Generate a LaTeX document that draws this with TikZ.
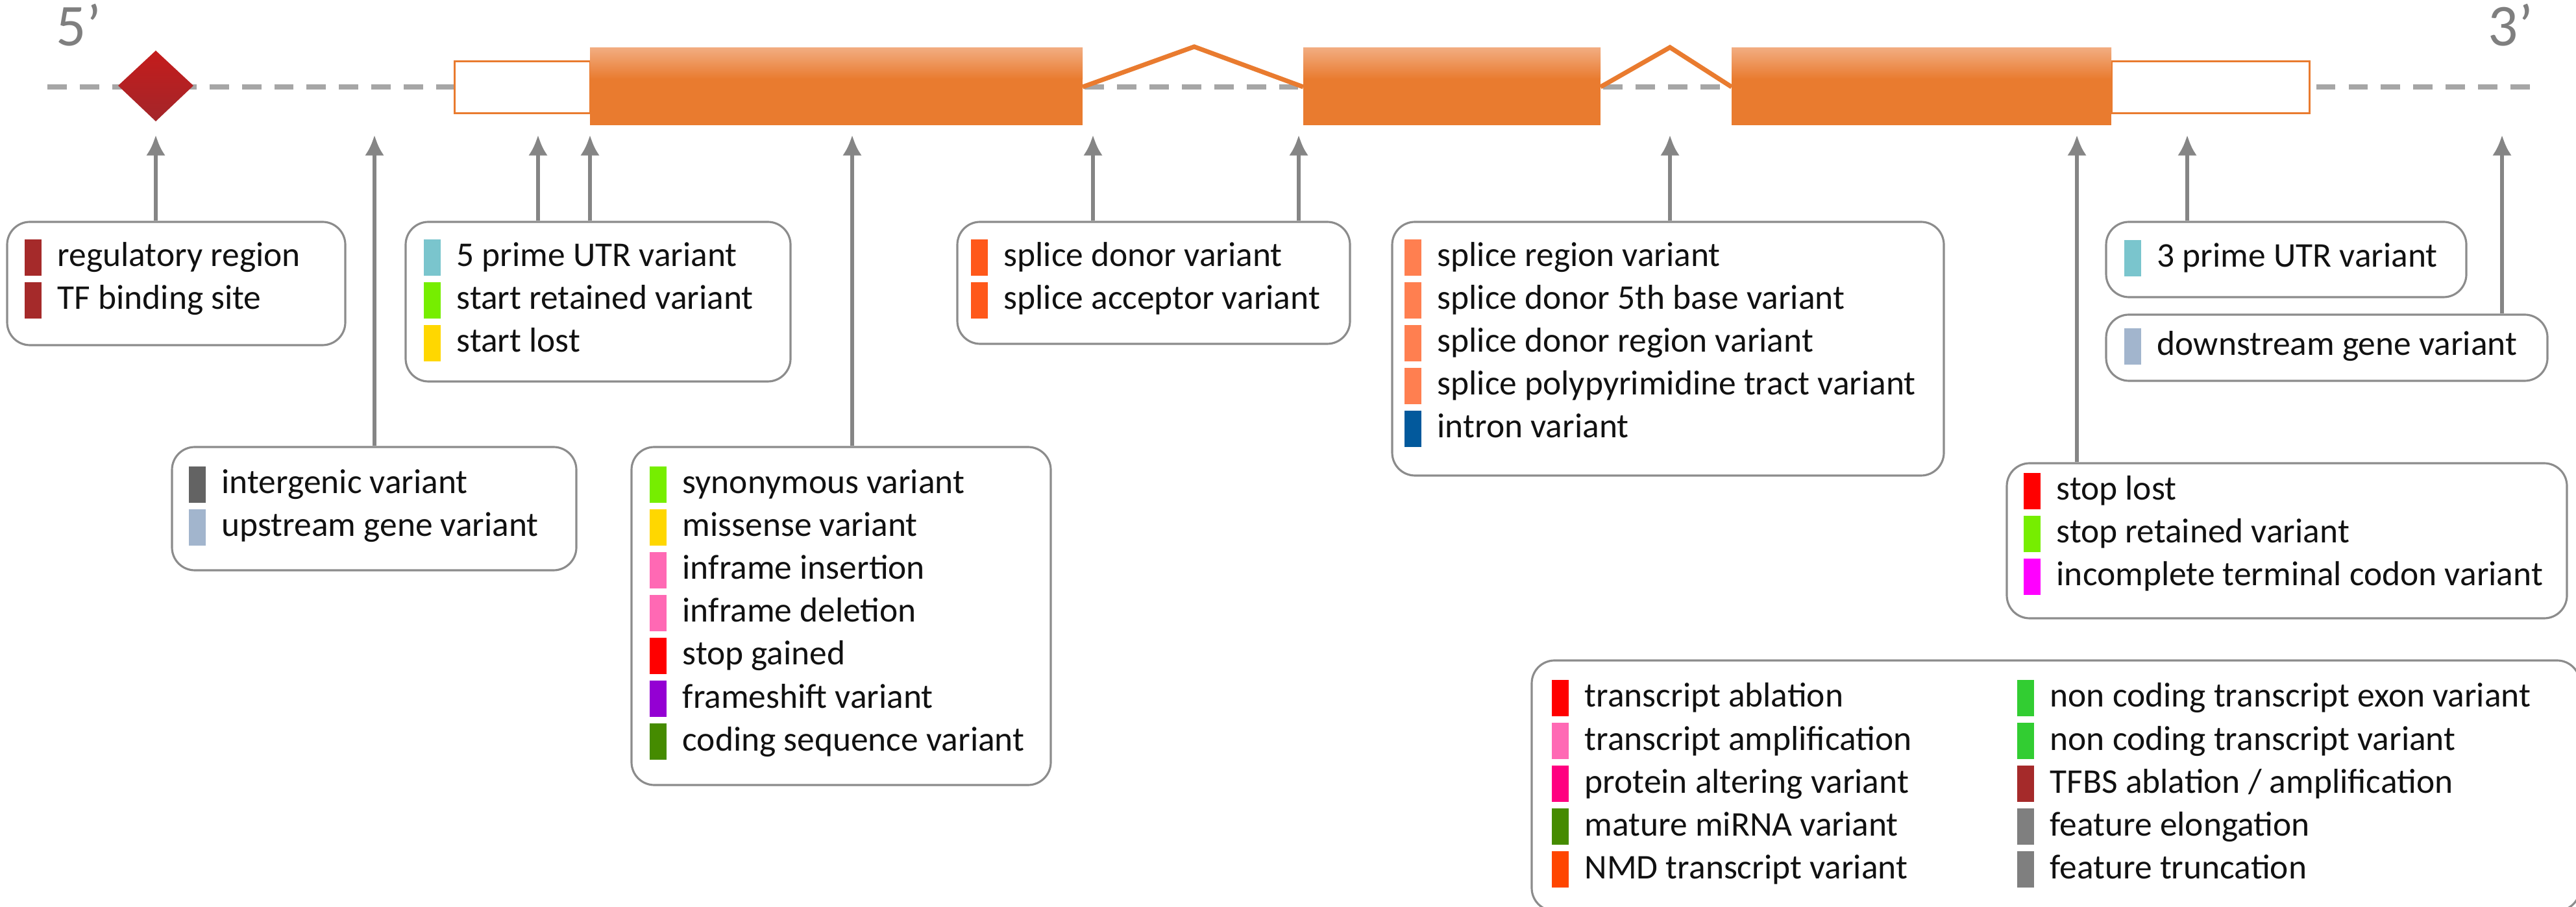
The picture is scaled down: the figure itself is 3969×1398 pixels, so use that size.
\documentclass[tikz,border=0pt]{standalone}
\usepackage{fontspec}
\setmainfont{Carlito}
\usetikzlibrary{arrows.meta,fit}
\definecolor{gline}{HTML}{A6A6A6}
\definecolor{exonor}{HTML}{E97B2F}
\definecolor{exonlt}{HTML}{F2AC80}
\definecolor{diamA}{HTML}{C41C1C}
\definecolor{diamB}{HTML}{A3262A}
\definecolor{arrg}{HTML}{858585}
\definecolor{boxg}{HTML}{8C8C8C}
\definecolor{primeg}{HTML}{7F7F7F}
\definecolor{cBrown}{HTML}{A52A2A}
\definecolor{cCadet}{HTML}{7AC5CD}
\definecolor{cChart}{HTML}{76EE00}
\definecolor{cGold}{HTML}{FFD700}
\definecolor{cInter}{HTML}{636363}
\definecolor{cSteel}{HTML}{A2B5CD}
\definecolor{cHot}{HTML}{FF69B4}
\definecolor{cRed}{HTML}{FF0000}
\definecolor{cViolet}{HTML}{9400D3}
\definecolor{cDGreen}{HTML}{458B00}
\definecolor{cSplice}{HTML}{FF581A}
\definecolor{cCoral}{HTML}{FF7F50}
\definecolor{cIntron}{HTML}{02599C}
\definecolor{cMag}{HTML}{FF00FF}
\definecolor{cDeep}{HTML}{FF0080}
\definecolor{cOrRed}{HTML}{FF4500}
\definecolor{cLime}{HTML}{32CD32}
\definecolor{cGrey}{HTML}{7F7F7F}
\definecolor{txt}{HTML}{111111}
\newcommand\mkbox[5]{\node[lbox, fit={(#2,#3) (#4,#5)}] (#1) {};}
\newcommand\lrow[5]{%
  \node[vbar, fill=#4] (#1b) at (#2,#3) {};
  \node[vtxt] (#1t) at (#2+51,#3+14) {#5};}
\begin{document}
\begin{tikzpicture}[x=0.01cm,y=-0.01cm,
  lbox/.style={draw=boxg, line width=0.9pt, rounded corners=10pt, fill=white, inner sep=0pt},
  vbar/.style={anchor=west, minimum width=0.26cm, minimum height=0.56cm, inner sep=0pt, draw=none},
  vtxt/.style={anchor=base west, inner sep=0pt, text=txt, font=\fontsize{15.2}{18}\selectfont},
  pointer/.style={draw=arrg, line width=1.7pt, -{Latex[length=9pt,width=8.4pt]}},
  geneline/.style={draw=gline, line width=2.3pt, dash pattern=on 8.5pt off 5.7pt},
  utr/.style={draw=exonor, line width=0.85pt, fill=white},
  intron/.style={draw=exonor, line width=2pt, line join=miter},
  primelabel/.style={anchor=base west, inner sep=0pt, text=primeg, font=\fontsize{26}{30}\selectfont}]
\useasboundingbox (0,0) rectangle (3969,1398);
\fill[white] (0,0) rectangle (3969,1398);

% gene backbone
\draw[geneline] (73,134) -- (3915,134);
\node[primelabel] (p5) at (86,71) {5’};
\node[primelabel] (p3) at (3833,71) {3’};

% regulatory diamond
\shade[top color=diamA, bottom color=diamB] (240,78) -- (298,132) -- (240,187) -- (182,132) -- cycle;

% UTRs
\draw[utr] (700,95) rectangle (909,175);
\draw[utr] (3253,95) rectangle (3558,175);

% exons
\foreach \a/\b in {909/1668, 2008/2466, 2668/3253}{
  \fill[exonor] (\a,74) rectangle (\b,193);
  \shade[top color=exonlt, bottom color=exonor] (\a,74) rectangle (\b,122);
}
% introns
\draw[intron] (1668,134) -- (1840,72) -- (2008,134);
\draw[intron] (2466,134) -- (2573,73) -- (2668,134);

% legend boxes
\mkbox{bA}{11}{342}{532}{532}
\mkbox{bB}{625}{342}{1218}{588}
\mkbox{bC}{265}{689}{888}{879}
\mkbox{bD}{973}{689}{1619}{1210}
\mkbox{bE}{1475}{342}{2080}{530}
\mkbox{bF}{2145}{342}{2995}{733}
\mkbox{bG}{3245}{342}{3800}{458}
\mkbox{bH}{3245}{485}{3925}{587}
\mkbox{bI}{3092}{714}{3955}{953}
\mkbox{bJ}{2360}{1018}{3975}{1404}

% rows
\lrow{a1}{37}{397}{cBrown}{regulatory region}
\lrow{a2}{37}{463}{cBrown}{TF binding site}

\lrow{b1}{652}{397}{cCadet}{5 prime UTR variant}
\lrow{b2}{652}{463}{cChart}{start retained variant}
\lrow{b3}{652}{529}{cGold}{start lost}

\lrow{c1}{290}{747}{cInter}{intergenic variant}
\lrow{c2}{290}{813}{cSteel}{upstream gene variant}

\lrow{d1}{1000}{747}{cChart}{synonymous variant}
\lrow{d2}{1000}{813}{cGold}{missense variant}
\lrow{d3}{1000}{879}{cHot}{inframe insertion}
\lrow{d4}{1000}{945}{cHot}{inframe deletion}
\lrow{d5}{1000}{1011}{cRed}{stop gained}
\lrow{d6}{1000}{1077}{cViolet}{frameshift variant}
\lrow{d7}{1000}{1143}{cDGreen}{coding sequence variant}

\lrow{e1}{1495}{397}{cSplice}{splice donor variant}
\lrow{e2}{1495}{463}{cSplice}{splice acceptor variant}

\lrow{f1}{2163}{397}{cCoral}{splice region variant}
\lrow{f2}{2163}{463}{cCoral}{splice donor 5th base variant}
\lrow{f3}{2163}{529}{cCoral}{splice donor region variant}
\lrow{f4}{2163}{595}{cCoral}{splice polypyrimidine tract variant}
\lrow{f5}{2163}{661}{cIntron}{intron variant}

\lrow{g1}{3272}{398}{cCadet}{3 prime UTR variant}
\lrow{h1}{3272}{534}{cSteel}{downstream gene variant}

\lrow{i1}{3117}{757}{cRed}{stop lost}
\lrow{i2}{3117}{823}{cChart}{stop retained variant}
\lrow{i3}{3117}{889}{cMag}{incomplete terminal codon variant}

\lrow{j1}{2390}{1076}{cRed}{transcript ablation}
\lrow{j2}{2390}{1142}{cHot}{transcript amplification}
\lrow{j3}{2390}{1208}{cDeep}{protein altering variant}
\lrow{j4}{2390}{1274}{cDGreen}{mature miRNA variant}
\lrow{j5}{2390}{1340}{cOrRed}{NMD transcript variant}
\lrow{k1}{3107}{1076}{cLime}{non coding transcript exon variant}
\lrow{k2}{3107}{1142}{cLime}{non coding transcript variant}
\lrow{k3}{3107}{1208}{cBrown}{TFBS ablation / amplification}
\lrow{k4}{3107}{1274}{cGrey}{feature elongation}
\lrow{k5}{3107}{1340}{cGrey}{feature truncation}

% arrow tips
\coordinate (t1) at (240,208);
\coordinate (t2) at (577,208);
\coordinate (t3) at (829,208);
\coordinate (t4) at (909,208);
\coordinate (t5) at (1313,208);
\coordinate (t6) at (1684,208);
\coordinate (t7) at (2001,208);
\coordinate (t8) at (2573,208);
\coordinate (t9) at (3200,208);
\coordinate (t10) at (3370,208);
\coordinate (t11) at (3855,208);

\draw[pointer] (bA.north -| t1) -- (t1);
\draw[pointer] (bC.north -| t2) -- (t2);
\draw[pointer] (bB.north -| t3) -- (t3);
\draw[pointer] (bB.north -| t4) -- (t4);
\draw[pointer] (bD.north -| t5) -- (t5);
\draw[pointer] (bE.north -| t6) -- (t6);
\draw[pointer] (bE.north -| t7) -- (t7);
\draw[pointer] (bF.north -| t8) -- (t8);
\draw[pointer] (bI.north -| t9) -- (t9);
\draw[pointer] (bG.north -| t10) -- (t10);
\draw[pointer] (bH.north -| t11) -- (t11);
\end{tikzpicture}
\end{document}
